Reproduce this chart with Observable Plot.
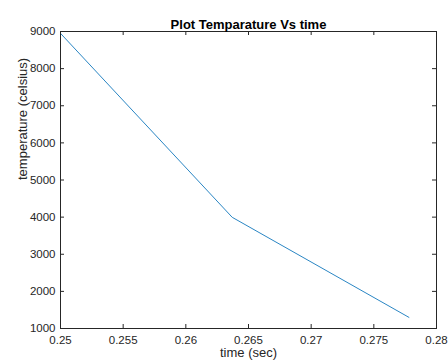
<!DOCTYPE html>
<html>
<head>
<meta charset="utf-8">
<script src="https://cdn.jsdelivr.net/npm/d3@7"></script>
<script src="https://cdn.jsdelivr.net/npm/@observablehq/plot@0.6"></script>
<style>
  html, body { margin: 0; padding: 0; background: #fff; }
  #chart svg { display: block; }
</style>
</head>
<body>
<div id="chart"></div>
<script>
const timeSec = [0.25, 0.2637, 0.2778];
const temperatureC = [8950, 3995, 1300];
const xTicks = [0.25, 0.255, 0.26, 0.265, 0.27, 0.275, 0.28];
const xTickLabels = ["0.25", "0.255", "0.26", "0.265", "0.27", "0.275", "0.28"];
const yTicks = [1000, 2000, 3000, 4000, 5000, 6000, 7000, 8000, 9000];
const titleText = "Plot Temparature Vs time";
const xLabel = "time (sec)";
const yLabel = "temperature (celsius)";

const data = timeSec.map((t, i) => ({t, v: temperatureC[i]}));

const W = 448, H = 364;
const mT = 31, mB = 36, mL = 60, mR = 12;
const plotW = W - mL - mR, plotH = H - mT - mB;
const tickLen = 4;
const axisColor = "#262626";
const font = "'Liberation Sans', Arial, Helvetica, sans-serif";

const chart = Plot.plot({
  width: W,
  height: H,
  marginTop: mT,
  marginBottom: mB,
  marginLeft: mL,
  marginRight: mR,
  style: {fontFamily: font, fontSize: "11.5px", color: axisColor, background: "#fff"},
  x: {domain: [0.25, 0.28]},
  y: {domain: [1000, 9000]},
  marks: [
    Plot.axisX(xTicks, {tickSize: 0, tickPadding: 7, label: null,
      tickFormat: (d) => xTickLabels[xTicks.indexOf(d)], fill: axisColor}),
    Plot.axisY(yTicks, {tickSize: 0, tickPadding: 5, label: null,
      tickFormat: (d) => String(d), fill: axisColor}),
    // inward ticks, MATLAB style, on all four sides
    Plot.tickX(xTicks, {x: d => d, insetTop: plotH - tickLen, stroke: axisColor, strokeWidth: 1}),
    Plot.tickX(xTicks, {x: d => d, insetBottom: plotH - tickLen, stroke: axisColor, strokeWidth: 1}),
    Plot.tickY(yTicks, {y: d => d, insetRight: plotW - tickLen, stroke: axisColor, strokeWidth: 1}),
    Plot.tickY(yTicks, {y: d => d, insetLeft: plotW - tickLen, stroke: axisColor, strokeWidth: 1}),
    Plot.line(data, {x: "t", y: "v", stroke: "#2a86c4", strokeWidth: 1}),
    Plot.frame({stroke: axisColor, strokeWidth: 1}),
    Plot.text([titleText], {frameAnchor: "top", dy: -12, fontWeight: "bold", fontSize: 13, fill: "#000"}),
    Plot.text([xLabel], {frameAnchor: "bottom", dy: 28, fontSize: 13, fill: axisColor}),
    Plot.text([yLabel], {frameAnchor: "left", dx: -38, rotate: -90, fontSize: 13, fill: axisColor})
  ]
});
document.getElementById("chart").appendChild(chart);
</script>
</body>
</html>
